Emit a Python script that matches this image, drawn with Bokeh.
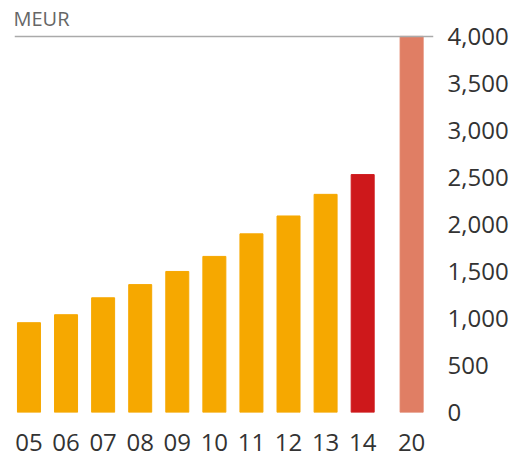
from bokeh.plotting import figure
from bokeh.models import FixedTicker, NumeralTickFormatter, Span, Range1d, ColumnDataSource
from bokeh.embed import file_html
from bokeh.resources import INLINE

# --- data ---
years = ["05", "06", "07", "08", "09", "10", "11", "12", "13", "14"]
values = [955, 1040, 1220, 1360, 1500, 1660, 1900, 2090, 2320, 2530]
target_label = "20"
target_value = 4000
y_ticks = [0, 500, 1000, 1500, 2000, 2500, 3000, 3500, 4000]
unit = "MEUR"

ORANGE = "#F6A800"
RED = "#CE181B"
SALMON = "#E07E64"
FONT = "Open Sans"

n = len(years)
xs = [float(i) for i in range(n)] + [float(n - 1) + 1.32]
labels = years + [target_label]
tops = values + [target_value]
colors = [ORANGE] * (n - 1) + [RED, SALMON]

src = ColumnDataSource(dict(x=xs, top=tops, color=colors))

p = figure(
    frame_width=419, frame_height=378,
    output_backend="svg", toolbar_location=None,
    y_axis_location="right",
    x_range=Range1d(-0.39, xs[-1] + 0.59),
    y_range=Range1d(0, 4020),
    min_border_left=14, min_border_right=0, min_border_top=0, min_border_bottom=47,
)
p.outline_line_color = None
p.xgrid.visible = False
p.ygrid.visible = False
p.background_fill_color = "white"
p.border_fill_color = "white"

p.title.text = unit
p.title.text_font = FONT
p.title.text_font_size = "20px"
p.title.text_font_style = "normal"
p.title.text_color = "#666666"
p.title.align = "left"
p.title.offset = -1
p.title.standoff = 5

p.vbar(x="x", top="top", width=0.62, bottom=0, color="color", source=src)

p.add_layout(Span(location=target_value, dimension="width", line_color="#AAAAAA", line_width=1.5))

xa = p.xaxis[0]
xa.ticker = FixedTicker(ticks=xs)
xa.major_label_overrides = {x: l for x, l in zip(xs, labels)}
xa.axis_line_color = None
xa.major_tick_line_color = None
xa.minor_tick_line_color = None
xa.major_label_standoff = 15
xa.major_label_text_font = FONT
xa.major_label_text_font_size = "24px"
xa.major_label_text_color = "#333333"

ya = p.yaxis[0]
ya.ticker = FixedTicker(ticks=y_ticks)
ya.formatter = NumeralTickFormatter(format="0,0")
ya.axis_line_color = None
ya.major_tick_line_color = None
ya.minor_tick_line_color = None
ya.major_label_standoff = 8
ya.major_label_text_font = FONT
ya.major_label_text_font_size = "24px"
ya.major_label_text_color = "#333333"

open("out.html", "w").write(file_html(p, INLINE))
